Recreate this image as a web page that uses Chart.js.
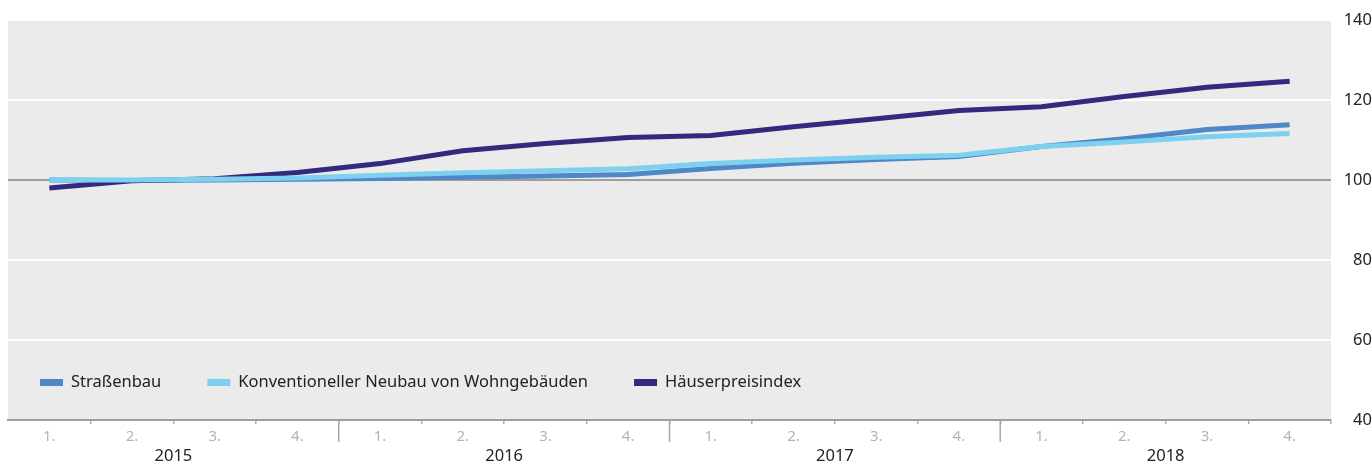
<!DOCTYPE html>
<html>
<head>
<meta charset="utf-8">
<script src="https://cdn.jsdelivr.net/npm/chart.js@4/dist/chart.umd.min.js"></script>
<style>
html,body{margin:0;padding:0;background:#fff;}
#wrap{width:1372px;height:464px;position:relative;}
</style>
</head>
<body>
<div id="wrap"><canvas id="c" width="1372" height="464"></canvas></div>
<script>
const quarters = ['1.','2.','3.','4.','1.','2.','3.','4.','1.','2.','3.','4.','1.','2.','3.','4.'];
const years = ['2015','2016','2017','2018'];
const strassenbau = [100.0, 99.9, 100.0, 100.2, 100.4, 100.7, 101.0, 101.4, 102.9, 104.2, 105.1, 105.9, 108.4, 110.3, 112.6, 113.8];
const neubau = [100.0, 100.0, 100.2, 100.5, 101.2, 101.8, 102.3, 102.8, 104.1, 105.0, 105.7, 106.2, 108.4, 109.5, 110.8, 111.6];
const haeuser = [98.0, 99.8, 100.3, 101.9, 104.1, 107.3, 109.1, 110.6, 111.1, 113.3, 115.3, 117.4, 118.3, 120.9, 123.2, 124.7];
const yTicks = [40, 60, 80, 100, 120, 140];

const FONT = '"Noto Sans", "Open Sans", sans-serif';

const bgPlugin = {
  id: 'bg',
  beforeDraw(chart) {
    const a = chart.chartArea, ctx = chart.ctx;
    ctx.save();
    ctx.fillStyle = '#ebebeb';
    ctx.fillRect(a.left, a.top, a.right - a.left, a.bottom - a.top);
    ctx.restore();
  },
  afterDraw(chart) {
    const a = chart.chartArea, ctx = chart.ctx;
    const xs = chart.scales.x;
    ctx.save();
    ctx.strokeStyle = '#a8a8a8';
    ctx.lineWidth = 1.5;
    for (let i = 4; i < quarters.length; i += 4) {
      const px = (xs.getPixelForValue(i - 1) + xs.getPixelForValue(i)) / 2;
      ctx.beginPath();
      ctx.moveTo(px, a.bottom);
      ctx.lineTo(px, a.bottom + 22);
      ctx.stroke();
    }
    ctx.font = '16.5px ' + FONT;
    ctx.textBaseline = 'middle';
    let x = a.left + 32;
    const y = 382;
    chart.data.datasets.forEach(ds => {
      ctx.fillStyle = ds.borderColor;
      ctx.fillRect(x, y - 3, 23, 7);
      x += 31;
      ctx.fillStyle = '#222';
      ctx.fillText(ds.label, x, y);
      x += ctx.measureText(ds.label).width + 46;
    });
    ctx.restore();
  }
};

new Chart(document.getElementById('c'), {
  type: 'line',
  data: {
    labels: quarters,
    datasets: [
      { label: 'Straßenbau', data: strassenbau, borderColor: '#4f87c7', backgroundColor: '#4f87c7', order: 2 },
      { label: 'Konventioneller Neubau von Wohngebäuden', data: neubau, borderColor: '#7dd1ef', backgroundColor: '#7dd1ef', order: 0 },
      { label: 'Häuserpreisindex', data: haeuser, borderColor: '#322a7f', backgroundColor: '#322a7f', order: 1 }
    ]
  },
  options: {
    responsive: false,
    animation: false,
    devicePixelRatio: 1,
    layout: { padding: { left: 8, top: 20, right: 0, bottom: 0 } },
    elements: {
      line: { borderWidth: 5, tension: 0, borderCapStyle: 'butt' },
      point: { radius: 0, hoverRadius: 0 }
    },
    plugins: { legend: { display: false }, tooltip: { enabled: false } },
    scales: {
      x: {
        type: 'category',
        position: 'bottom',
        weight: 0,
        offset: true,
        grid: {
          offset: true, drawOnChartArea: false, drawTicks: true, tickLength: 4, lineWidth: 1.5,
          color: ctx => (ctx.index === 0) ? 'rgba(0,0,0,0)' : '#b0b0b0'
        },
        border: { display: true, color: '#9e9e9e', width: 2 },
        ticks: { color: '#b4b4b4', font: { family: FONT, size: 15 }, padding: 4, maxRotation: 0, autoSkip: false },
        afterFit(s) { s.height = 24; }
      },
      x2: {
        type: 'category',
        position: 'bottom',
        weight: 1,
        labels: years,
        offset: true,
        grid: { display: false, drawTicks: false },
        border: { display: false },
        ticks: { color: '#222', font: { family: FONT, size: 16.5 }, padding: 2, maxRotation: 0 },
        afterFit(s) { s.height = 20; }
      },
      y: {
        position: 'right',
        min: 40,
        max: 140,
        afterBuildTicks(s) { s.ticks = yTicks.map(v => ({ value: v })); },
        grid: {
          drawTicks: false,
          lineWidth: 2,
          color: ctx => (ctx.tick && (ctx.tick.value === 100 || ctx.tick.value === 40)) ? '#9e9e9e' : '#ffffff'
        },
        border: { display: false },
        ticks: { color: '#222', font: { family: FONT, size: 16.5 }, padding: 7, crossAlign: 'far' },
        afterFit(s) { s.width = 41; }
      }
    }
  },
  plugins: [bgPlugin]
});
</script>
</body>
</html>
